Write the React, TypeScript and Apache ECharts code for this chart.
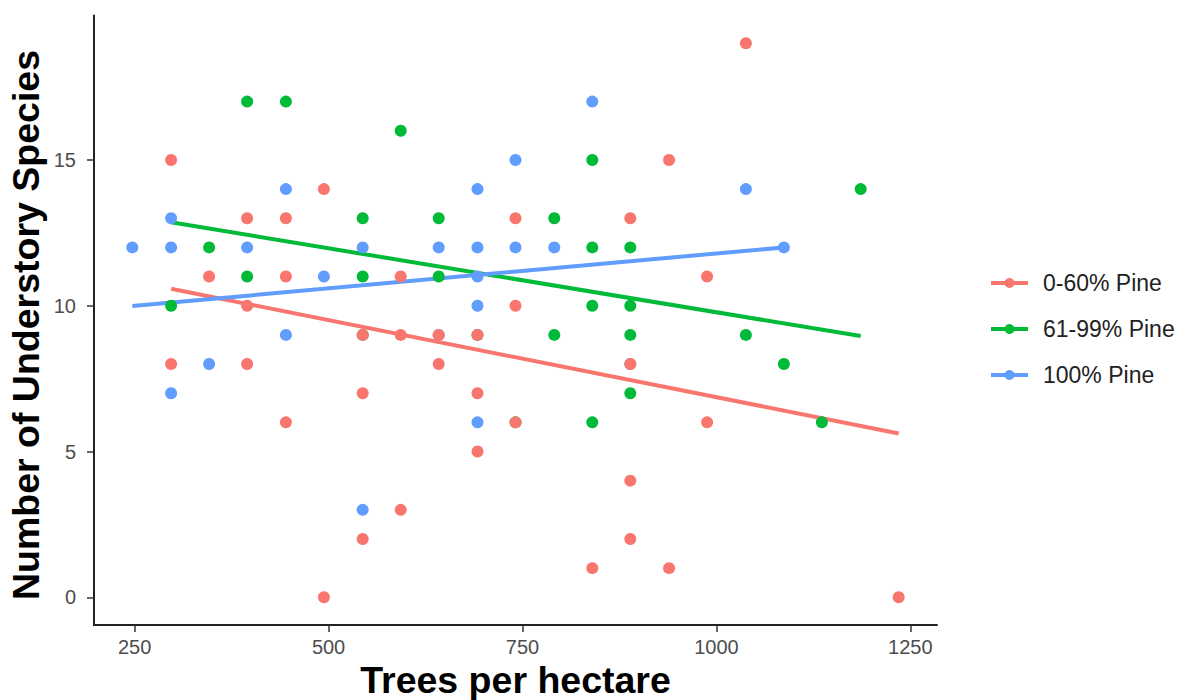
import React, { useEffect, useRef } from "react";
import * as echarts from "echarts";

// Plot observations: [trees per hectare, number of understory species]
const pine0to60: [number, number][] = [
  [297, 15], [494, 14], [395, 13], [445, 13], [346, 11], [445, 11], [395, 10],
  [544, 9], [297, 8], [395, 8], [544, 7], [445, 6], [544, 2], [494, 0],
  [741, 13], [889, 13], [593, 11], [741, 10], [593, 9], [642, 9], [692, 9],
  [642, 8], [889, 8], [692, 7], [741, 6], [692, 5], [889, 4], [593, 3],
  [889, 2], [840, 1], [939, 1], [939, 15], [1038, 19], [988, 11], [988, 6],
  [1235, 0],
];

const pine61to99: [number, number][] = [
  [395, 17], [445, 17], [544, 13], [346, 12], [395, 11], [544, 11], [297, 10],
  [544, 9], [593, 16], [840, 15], [642, 13], [791, 13], [840, 12], [889, 12],
  [642, 11], [692, 9], [741, 6], [840, 10], [889, 10], [791, 9], [889, 9],
  [889, 7], [840, 6], [1186, 14], [1038, 9], [1087, 8], [1136, 6],
];

const pine100: [number, number][] = [
  [247, 12], [297, 12], [297, 13], [445, 14], [395, 12], [544, 12], [494, 11],
  [445, 9], [346, 8], [297, 7], [544, 3], [840, 17], [741, 15], [692, 14],
  [642, 12], [692, 12], [741, 12], [791, 12], [692, 11], [692, 10], [692, 6],
  [642, 9], [889, 8], [1038, 14], [1087, 12],
];

// Linear fit segments for each group (start and end of the fitted line)
const fit0to60: [number, number][] = [[297, 10.58], [1235, 5.62]];
const fit61to99: [number, number][] = [[297, 12.86], [1186, 8.96]];
const fit100: [number, number][] = [[247, 9.99], [1087, 12.0]];

const groupNames = ["0-60% Pine", "61-99% Pine", "100% Pine"];
const groupColors = ["#F8766D", "#00BA38", "#619CFF"];

const xTicks = [250, 500, 750, 1000, 1250];
const yTicks = [0, 5, 10, 15];

const FONT = '"Liberation Sans", Arial, Helvetica, sans-serif';

// Legend key: a short line with a dot in the middle
const KEY_ICON =
  "path://M0,3 L37,3 L37,7 L0,7 Z M18.5,0 A5,5 0 1 1 18.49,0 Z";

export default function App() {
  const ref = useRef<HTMLDivElement>(null);

  useEffect(() => {
    if (!ref.current) return;
    const chart = echarts.init(ref.current, null, { renderer: "svg" });

    const points = [pine61to99, pine100, pine0to60];
    const pointNames = [groupNames[1], groupNames[2], groupNames[0]];
    const pointColors = [groupColors[1], groupColors[2], groupColors[0]];
    const fits = [fit0to60, fit61to99, fit100];

    const lineSeries = fits.map((d, i) => ({
      type: "line",
      name: groupNames[i],
      data: d,
      showSymbol: false,
      symbol: "none",
      lineStyle: { color: groupColors[i], width: 4 },
      itemStyle: { color: groupColors[i] },
      z: 2,
      silent: true,
    }));

    const scatterSeries = points.map((d, i) => ({
      type: "scatter",
      name: pointNames[i],
      data: d,
      symbol: "circle",
      symbolSize: 12,
      itemStyle: { color: pointColors[i], opacity: 1 },
      z: 3,
    }));

    chart.setOption({
      animation: false,
      backgroundColor: "#ffffff",
      grid: { left: 94, right: 245, top: 15.6, bottom: 75 },
      xAxis: {
        type: "value",
        min: 197.6,
        max: 1284.4,
        splitLine: { show: false },
        axisLine: { onZero: false, lineStyle: { color: "#222", width: 2 } },
        axisTick: {
          customValues: xTicks,
          length: 7,
          lineStyle: { color: "#333", width: 1.5 },
        },
        axisLabel: {
          customValues: xTicks,
          formatter: (v: number) => String(v),
          fontSize: 20,
          fontFamily: FONT,
          color: "#4D4D4D",
          margin: 12,
        },
      },
      yAxis: {
        type: "value",
        min: -0.95,
        max: 19.95,
        splitLine: { show: false },
        axisLine: { onZero: false, lineStyle: { color: "#222", width: 2 } },
        axisTick: {
          customValues: yTicks,
          length: 7,
          lineStyle: { color: "#333", width: 1.5 },
        },
        axisLabel: {
          customValues: yTicks,
          formatter: (v: number) => String(v),
          fontSize: 20,
          fontFamily: FONT,
          color: "#4D4D4D",
          margin: 18,
        },
      },
      legend: {
        orient: "vertical",
        left: 986,
        top: 266,
        itemWidth: 37,
        itemHeight: 10,
        itemGap: 22,
        data: groupNames.map((n, i) => ({
          name: n,
          icon: KEY_ICON,
          itemStyle: { color: groupColors[i] },
        })),
        textStyle: {
          fontSize: 23,
          fontFamily: FONT,
          color: "#222",
          lineHeight: 24,
          padding: [0, 0, 0, 10],
        },
        selectedMode: false,
      },
      graphic: [
        {
          type: "text",
          x: 515.5,
          y: 680,
          style: {
            text: "Trees per hectare",
            font: `bold 37.5px ${FONT}`,
            fill: "#000",
            align: "center",
            verticalAlign: "middle",
          },
        },
        {
          type: "text",
          x: 26,
          y: 325,
          rotation: Math.PI / 2,
          style: {
            text: "Number of Understory Species",
            font: `bold 37.5px ${FONT}`,
            fill: "#000",
            align: "center",
            verticalAlign: "middle",
          },
        },
      ],
      series: [...lineSeries, ...scatterSeries],
    });

    return () => chart.dispose();
  }, []);

  return (
    <div
      ref={ref}
      style={{
        position: "fixed",
        left: 0,
        top: 0,
        width: 1182,
        height: 700,
        background: "#fff",
      }}
    />
  );
}
